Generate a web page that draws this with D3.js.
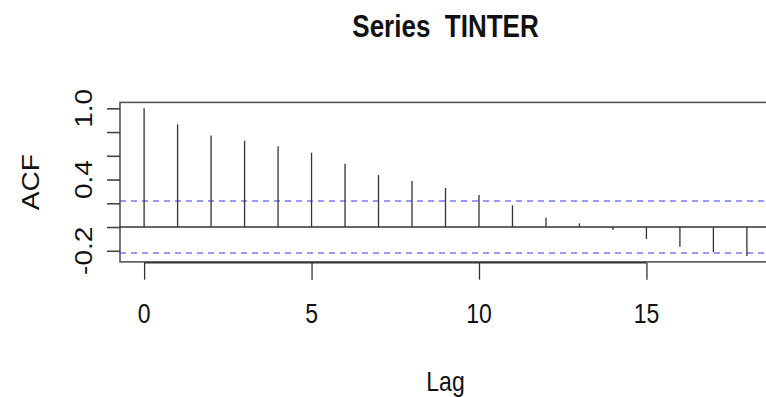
<!DOCTYPE html>
<html>
<head>
<meta charset="utf-8">
<script src="https://cdn.jsdelivr.net/npm/d3@7"></script>
<style>
  body { margin: 0; background: #fff; }
  svg text { font-family: "Liberation Sans", Arial, Helvetica, sans-serif; fill: #111; }
</style>
</head>
<body>
<div id="chart"></div>
<script>
const width = 766;
const height = 397;

// ACF of series TINTER
const lags = [0, 1, 2, 3, 4, 5, 6, 7, 8, 9, 10, 11, 12, 13, 14, 15, 16, 17, 18];
const acfValues = [1.0, 0.865, 0.772, 0.727, 0.680, 0.626, 0.534, 0.438, 0.388, 0.329,
                   0.270, 0.183, 0.078, 0.031, -0.025, -0.101, -0.166, -0.213, -0.244];
const ciBound = 0.219;
const xTicks = [0, 5, 10, 15];
const yTicks = [-0.2, 0, 0.2, 0.4, 0.6, 0.8, 1.0];
const yLabels = ["-0.2", "0.4", "1.0"];

// picture is a little stretched vertically
const stretch = 1.22;

const plot = { left: 120, right: 771, top: 102.4, bottom: 261.9 };

const svg = d3.select("#chart")
  .append("svg")
  .attr("width", width)
  .attr("height", height);

// R style: 4% extension of the data range
const xr = d3.extent(lags);
const xPad = (xr[1] - xr[0]) * 0.04;
const x = d3.scaleLinear()
  .domain([xr[0] - xPad, xr[1] + xPad])
  .range([plot.left, plot.right]);

const yr = d3.extent(acfValues.concat([ciBound, -ciBound]));
const yPad = (yr[1] - yr[0]) * 0.04;
const y = d3.scaleLinear()
  .domain([yr[0] - yPad, yr[1] + yPad])
  .range([plot.bottom, plot.top]);

// plot box
svg.append("rect")
  .attr("x", plot.left)
  .attr("y", plot.top)
  .attr("width", plot.right - plot.left)
  .attr("height", plot.bottom - plot.top)
  .attr("fill", "none")
  .attr("stroke", "#555")
  .attr("stroke-width", 1.6);

// confidence bounds
[ciBound, -ciBound].forEach(v => {
  svg.append("line")
    .attr("x1", plot.left)
    .attr("x2", plot.right)
    .attr("y1", y(v))
    .attr("y2", y(v))
    .attr("stroke", "#4a4aff")
    .attr("stroke-opacity", 0.75)
    .attr("stroke-width", 1.6)
    .attr("stroke-dasharray", "6,5");
});

// zero line
svg.append("line")
  .attr("x1", plot.left)
  .attr("x2", plot.right)
  .attr("y1", y(0))
  .attr("y2", y(0))
  .attr("stroke", "#333")
  .attr("stroke-width", 1.5);

// ACF spikes
svg.selectAll(".spike")
  .data(lags)
  .enter()
  .append("line")
  .attr("class", "spike")
  .attr("x1", d => x(d))
  .attr("x2", d => x(d))
  .attr("y1", y(0))
  .attr("y2", (d, i) => y(acfValues[i]))
  .attr("stroke", "#333")
  .attr("stroke-width", 1.3);

// x axis
const xAxis = svg.append("g")
  .attr("transform", `translate(0, ${plot.bottom + 0.8})`)
  .call(d3.axisBottom(x).tickValues(xTicks).tickSize(17).tickFormat(""));
xAxis.select(".domain").remove();
xAxis.selectAll("line").attr("stroke", "#333").attr("stroke-width", 1.3);
xAxis.append("line")
  .attr("x1", x(xTicks[0]))
  .attr("x2", x(xTicks[xTicks.length - 1]))
  .attr("stroke", "#333")
  .attr("stroke-width", 1.6);

svg.selectAll(".xlab")
  .data(xTicks)
  .enter()
  .append("text")
  .attr("class", "xlab")
  .attr("text-anchor", "middle")
  .attr("font-size", 23)
  .attr("transform", d => `translate(${x(d)}, 323) scale(1, ${stretch})`)
  .text(d => d);

// y axis
const yAxis = svg.append("g")
  .attr("transform", `translate(${plot.left}, 0)`)
  .call(d3.axisLeft(y).tickValues(yTicks).tickSize(13).tickFormat(""));
yAxis.select(".domain").remove();
yAxis.selectAll("line").attr("stroke", "#444").attr("stroke-width", 1.6);

svg.selectAll(".ylab")
  .data(yLabels)
  .enter()
  .append("text")
  .attr("class", "ylab")
  .attr("text-anchor", "middle")
  .attr("font-size", 23)
  .attr("transform", d => `translate(91.5, ${y(+d)}) scale(1, ${stretch}) rotate(-90)`)
  .text(d => d);

// titles
svg.append("text")
  .attr("text-anchor", "middle")
  .attr("font-size", 26)
  .attr("font-weight", "bold")
  .attr("transform", `translate(${(plot.left + plot.right) / 2}, 37) scale(1, ${stretch})`)
  .attr("xml:space", "preserve")
  .text("Series  TINTER");

svg.append("text")
  .attr("text-anchor", "middle")
  .attr("font-size", 23)
  .attr("transform", `translate(${(plot.left + plot.right) / 2}, 391) scale(1, ${stretch})`)
  .text("Lag");

svg.append("text")
  .attr("text-anchor", "middle")
  .attr("font-size", 23)
  .attr("transform", `translate(38.5, ${(plot.top + plot.bottom) / 2}) scale(1, ${stretch}) rotate(-90)`)
  .text("ACF");
</script>
</body>
</html>
